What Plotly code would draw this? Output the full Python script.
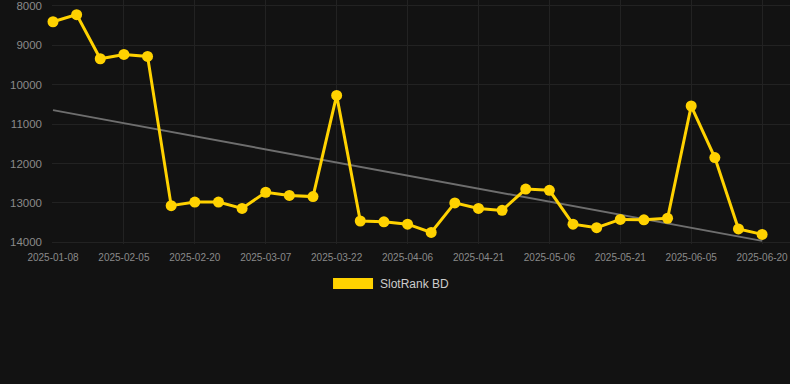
import numpy as np
import plotly.graph_objects as go

dates = ["2025-01-08", "2025-01-17", "2025-01-26", "2025-02-05", "2025-02-10", "2025-02-15",
         "2025-02-20", "2025-02-25", "2025-03-02", "2025-03-07", "2025-03-12", "2025-03-17",
         "2025-03-22", "2025-03-27", "2025-04-01", "2025-04-06", "2025-04-11", "2025-04-16",
         "2025-04-21", "2025-04-26", "2025-05-01", "2025-05-06", "2025-05-11", "2025-05-16",
         "2025-05-21", "2025-05-26", "2025-05-31", "2025-06-05", "2025-06-10", "2025-06-15",
         "2025-06-20"]
ranks = [8400, 8220, 9340, 9230, 9280, 13070, 12980, 12980, 13140, 12730, 12810, 12840,
         10270, 13460, 13480, 13540, 13750, 13000, 13140, 13190, 12650, 12680, 13540, 13630,
         13420, 13430, 13390, 10540, 11850, 13660, 13800]
tick_labels = dates[::3]
y_ticks = [8000, 9000, 10000, 11000, 12000, 13000, 14000]
series_name = "SlotRank BD"

idx = np.arange(len(ranks))
slope, intercept = np.polyfit(idx, ranks, 1)
trend = slope * idx + intercept

YELLOW = "#FFD200"
fig = go.Figure()
fig.add_trace(go.Scatter(x=dates, y=trend, mode="lines",
                         line=dict(color="#6e6e6e", width=2), showlegend=False, hoverinfo="skip"))
fig.add_trace(go.Scatter(x=dates, y=ranks, mode="lines+markers", cliponaxis=False,
                         line=dict(color=YELLOW, width=3),
                         marker=dict(color=YELLOW, size=11), showlegend=False, name=series_name))

# legend drawn as a box + label below the plot
fig.add_shape(type="rect", xref="paper", yref="paper",
              x0=0.3808, x1=0.435, y0=-0.1844, y1=-0.1393,
              fillcolor=YELLOW, line=dict(width=0))
fig.add_annotation(text=series_name, xref="paper", yref="paper", x=0.4424, y=-0.164,
                   xanchor="left", yanchor="middle", showarrow=False,
                   font=dict(size=12, color="#cccccc"))

fig.update_layout(
    width=790, height=384,
    paper_bgcolor="#121212", plot_bgcolor="#121212",
    margin=dict(l=52, r=0, t=0, b=140),
    font=dict(family="Arial, Liberation Sans, sans-serif", color="#8a8a8a", size=11),
    xaxis=dict(type="category", categoryorder="array", categoryarray=dates,
               tickvals=tick_labels, ticktext=tick_labels,
               range=[-0.042, 31.18], showgrid=True, gridcolor="#222222", gridwidth=1,
               zeroline=False, showline=False, ticks="", tickfont=dict(size=10, color="#8a8a8a"),
               ticklabelstandoff=6, ticklabeloverflow="allow"),
    yaxis=dict(range=[14044, 7848], tickvals=y_ticks, ticktext=[str(v) for v in y_ticks],
               showgrid=True, gridcolor="#222222", gridwidth=1, zeroline=False,
               tickfont=dict(size=11.5, color="#8a8a8a"), ticks="", ticklabelstandoff=9,
               ticklabeloverflow="allow"),
    showlegend=False,
)
fig.write_html("out.html", config={"displayModeBar": False},
               post_script="document.body.style.margin='0';document.body.style.background='#121212';")
